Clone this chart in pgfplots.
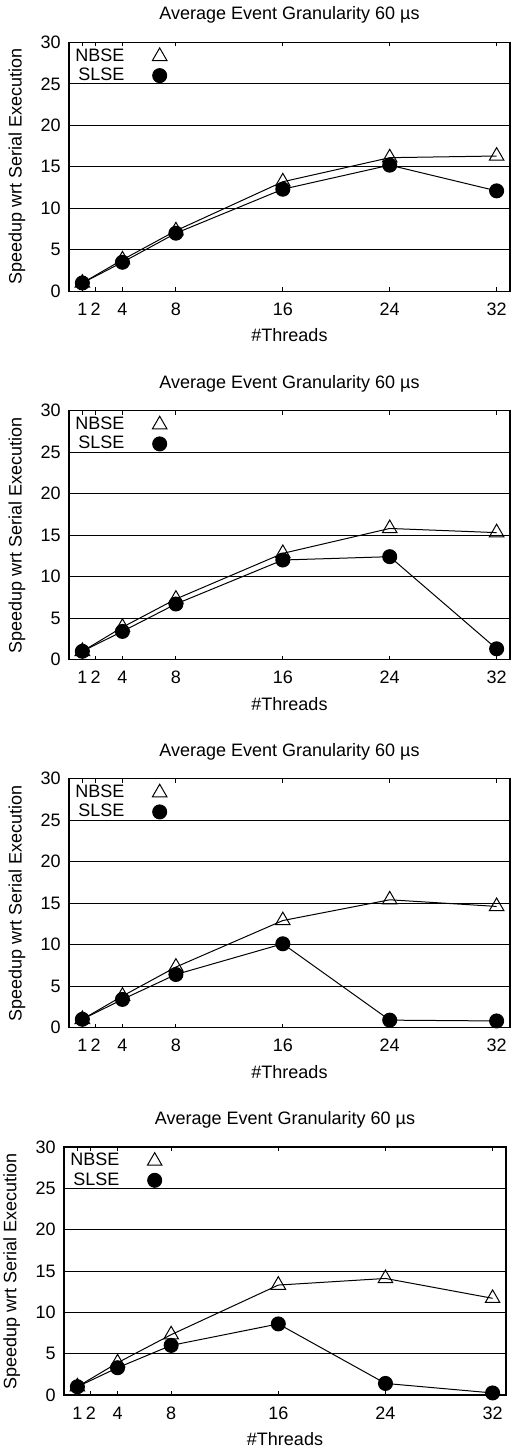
\documentclass[border=0pt]{standalone}
\usepackage{fontspec}
\setmainfont{Liberation Sans}
\usepackage{pgfplots}
\pgfplotsset{compat=1.18}

\pgfplotsset{
  speedup/.style={
    scale only axis, width=220.5pt, height=124.5pt,
    xmin=0, xmax=33, ymin=0, ymax=30,
    xtick={1,2,4,8,16,24,32}, ytick={0,5,...,30},
    tick align=inside, major tick length=2pt,
    ymajorgrids, grid style={black, line width=0.5pt},
    axis line style={line width=0.6pt},
    every tick/.style={black, line width=0.5pt},
    /pgf/number format/assume math mode=true,
    xticklabel style={anchor=center, yshift=-9pt},
    yticklabel style={anchor=east, inner sep=0pt, xshift=-4pt},
    every axis title/.style={at={(axis description cs:0.5,1)}, anchor=center, yshift=13.5pt},
    xlabel style={at={(axis description cs:0.5,0)}, anchor=center, yshift=-22pt},
    ylabel style={at={(axis description cs:-0.118,0.5)}, anchor=center},
    title={Average Event Granularity 60 µs},
    xlabel={\#Threads}, ylabel={Speedup wrt Serial Execution},
    legend plot pos=right, legend cell align=right,
    legend style={at={(axis description cs:0,1)}, anchor=north west,
      draw=none, fill=none, inner sep=0pt, xshift=2pt, yshift=-2pt,
      row sep=0pt, column sep=13pt, nodes={inner sep=1pt}},
  },
  nbse/.style={black, line width=0.5pt, mark=triangle, mark size=4.2pt, mark options={solid}},
  slse/.style={black, line width=0.5pt, mark=*, mark size=3.5pt, mark options={fill=black}},
}

\begin{document}
\fontsize{9}{10.5}\selectfont
\begin{tikzpicture}
\useasboundingbox (0,0) rectangle (255pt,-726pt);

% panel 1
\begin{axis}[speedup, at={(34.5pt,-21.15pt)}, anchor=north west]
\addlegendimage{nbse, only marks}\addlegendentry{NBSE}
\addlegendimage{slse, only marks}\addlegendentry{SLSE}
\addplot[nbse, forget plot] coordinates {(1,1.0) (4,3.8) (8,7.3) (16,13.2) (24,16.1) (32,16.3)};
\addplot[slse, forget plot] coordinates {(1,1.0) (4,3.5) (8,7.0) (16,12.3) (24,15.2) (32,12.1)};
\end{axis}

% panel 2
\begin{axis}[speedup, at={(34.5pt,-205.3pt)}, anchor=north west]
\addlegendimage{nbse, only marks}\addlegendentry{NBSE}
\addlegendimage{slse, only marks}\addlegendentry{SLSE}
\addplot[nbse, forget plot] coordinates {(1,1.0) (4,3.9) (8,7.3) (16,12.8) (24,15.8) (32,15.3)};
\addplot[slse, forget plot] coordinates {(1,1.0) (4,3.4) (8,6.7) (16,12.0) (24,12.4) (32,1.3)};
\end{axis}

% panel 3
\begin{axis}[speedup, at={(34.5pt,-389.3pt)}, anchor=north west]
\addlegendimage{nbse, only marks}\addlegendentry{NBSE}
\addlegendimage{slse, only marks}\addlegendentry{SLSE}
\addplot[nbse, forget plot] coordinates {(1,1.0) (4,3.8) (8,7.3) (16,12.9) (24,15.4) (32,14.6)};
\addplot[slse, forget plot] coordinates {(1,1.0) (4,3.4) (8,6.4) (16,10.1) (24,0.9) (32,0.8)};
\end{axis}

% panel 4
\begin{axis}[speedup, width=221pt, height=124pt, at={(32pt,-573.5pt)}, anchor=north west]
\addlegendimage{nbse, only marks}\addlegendentry{NBSE}
\addlegendimage{slse, only marks}\addlegendentry{SLSE}
\addplot[nbse, forget plot] coordinates {(1,1.0) (4,3.9) (8,7.3) (16,13.3) (24,14.1) (32,11.7)};
\addplot[slse, forget plot] coordinates {(1,1.0) (4,3.3) (8,6.0) (16,8.6) (24,1.4) (32,0.25)};
\end{axis}
\end{tikzpicture}
\end{document}
